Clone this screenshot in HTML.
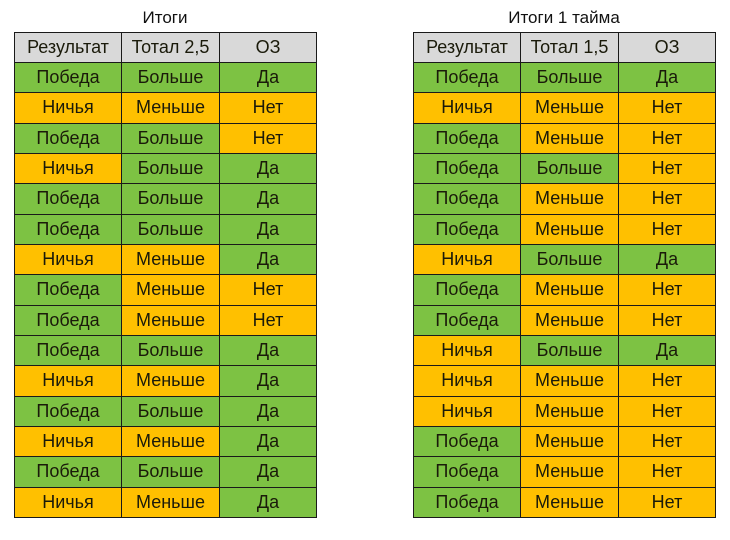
<!DOCTYPE html>
<html><head><meta charset="utf-8"><style>
body{margin:0;width:730px;height:540px;background:#fff;font-family:"Liberation Sans","DejaVu Sans",sans-serif;position:relative;overflow:hidden}
.t{position:absolute;top:8px;font-size:17px;color:#111;text-align:center;width:302px}
.g{position:absolute;top:32px;display:grid;background:#1a1a1a;padding:1px;gap:1px;grid-template-columns:106px 97px 96px;grid-template-rows:29px repeat(15,29.33px);}
.g div{display:flex;align-items:center;justify-content:center;font-size:18px;color:#1a1a0a}
.h{background:#d9d9d9}
.a{background:#7dc243}
.o{background:#ffc000}
</style></head><body>
<div class="t" style="left:14px">Итоги</div>
<div class="t" style="left:413px">Итоги 1 тайма</div>
<div class="g" style="left:14px" id="L"></div>
<div class="g" style="left:413px" id="R"></div>
<script>
function f(id,h,rows){var e=document.getElementById(id),s='';h.forEach(x=>s+='<div class="h">'+x+'</div>');
var m={'П':['Победа','a'],'Н':['Ничья','o'],'Б':['Больше','a'],'М':['Меньше','o'],'Д':['Да','a'],'Х':['Нет','o']};
rows.split(' ').forEach(r=>{for(var c of r){var v=m[c];s+='<div class="'+v[1]+'">'+v[0]+'</div>';}});e.innerHTML=s;}
f('L',['Результат','Тотал 2,5','ОЗ'],'ПБД НМХ ПБХ НБД ПБД ПБД НМД ПМХ ПМХ ПБД НМД ПБД НМД ПБД НМД');
f('R',['Результат','Тотал 1,5','ОЗ'],'ПБД НМХ ПМХ ПБХ ПМХ ПМХ НБД ПМХ ПМХ НБД НМХ НМХ ПМХ ПМХ ПМХ');
</script>
</body></html>
